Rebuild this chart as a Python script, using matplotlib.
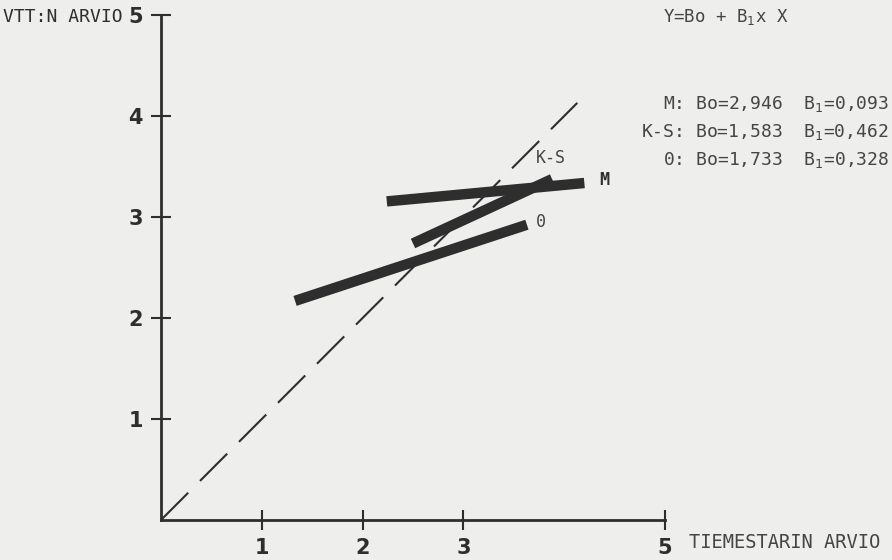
import matplotlib.pyplot as plt
import numpy as np

# regression lines: name, Bo, B1, x range
names = ['M', 'K-S', 'O']
b0 = [2.946, 1.583, 1.733]
b1 = [0.093, 0.462, 0.328]
x_start = [2.24, 2.50, 1.33]
x_end = [4.20, 3.88, 3.63]
coef_text = ['M: Bo=2,946  B$_1$=0,093',
             'K-S: Bo=1,583  B$_1$=0,462',
             '0: Bo=1,733  B$_1$=0,328']

x_ticks = [1, 2, 3, 5]
y_ticks = [1, 2, 3, 4, 5]
diag_end = 4.13

plt.rcParams['font.family'] = ['DejaVu Sans Mono']
plt.rcParams['mathtext.fontset'] = 'dejavusans'

bg = '#eeeeec'
ink = '#2e2e2e'
soft = '#454545'
fig = plt.figure(figsize=(8.92, 5.6), dpi=100, facecolor=bg)
ax = fig.add_axes([161 / 892, 40 / 560, 504 / 892, 505 / 560])
ax.set_facecolor(bg)

# y = x reference line
ax.plot([0, diag_end], [0, diag_end], color=ink, lw=1.5, dashes=(18.5, 8))

for i in range(len(names)):
    xs = np.array([x_start[i], x_end[i]])
    ax.plot(xs, b0[i] + b1[i] * xs, color=ink, lw=7.5, solid_capstyle='butt')

ax.set_xlim(0, 5)
ax.set_ylim(0, 5)
for s in ['top', 'right']:
    ax.spines[s].set_visible(False)
for s in ['left', 'bottom']:
    ax.spines[s].set_color(ink)
    ax.spines[s].set_linewidth(2)
ax.set_xticks(x_ticks)
ax.set_yticks(y_ticks)
ax.tick_params(direction='inout', length=14, width=1.5, color=ink,
               labelsize=15, labelcolor=ink, pad=6)
for lab in ax.get_xticklabels() + ax.get_yticklabels():
    lab.set_fontweight('bold')
    lab.set_family('DejaVu Sans')

# line labels
ax.text(3.72, 3.58, 'K-S', fontsize=12, color=soft, ha='left', va='center')
ax.text(4.35, 3.37, 'M', fontsize=12, color=ink, fontweight='bold', ha='left', va='center')
ax.text(3.72, 2.95, '0', fontsize=12, color=soft, ha='left', va='center')

# axis titles
fig.text(3 / 892, 1 - 17 / 560, 'VTT:N ARVIO', fontsize=13, color=ink, ha='left', va='center')
fig.text(689 / 892, 1 - 542 / 560, 'TIEMESTARIN ARVIO', fontsize=13.5, color=soft,
         ha='left', va='center')

# equation and coefficients
fig.text(663 / 892, 1 - 17 / 560, 'Y=Bo + B$_1$x X', fontsize=12.5, color=soft,
         ha='left', va='center')
for i, t in enumerate(coef_text):
    fig.text(889 / 892, 1 - (104 + 28 * i) / 560, t, fontsize=13, color=soft,
             ha='right', va='center')

plt.savefig('out.png', dpi=100, facecolor=bg)
